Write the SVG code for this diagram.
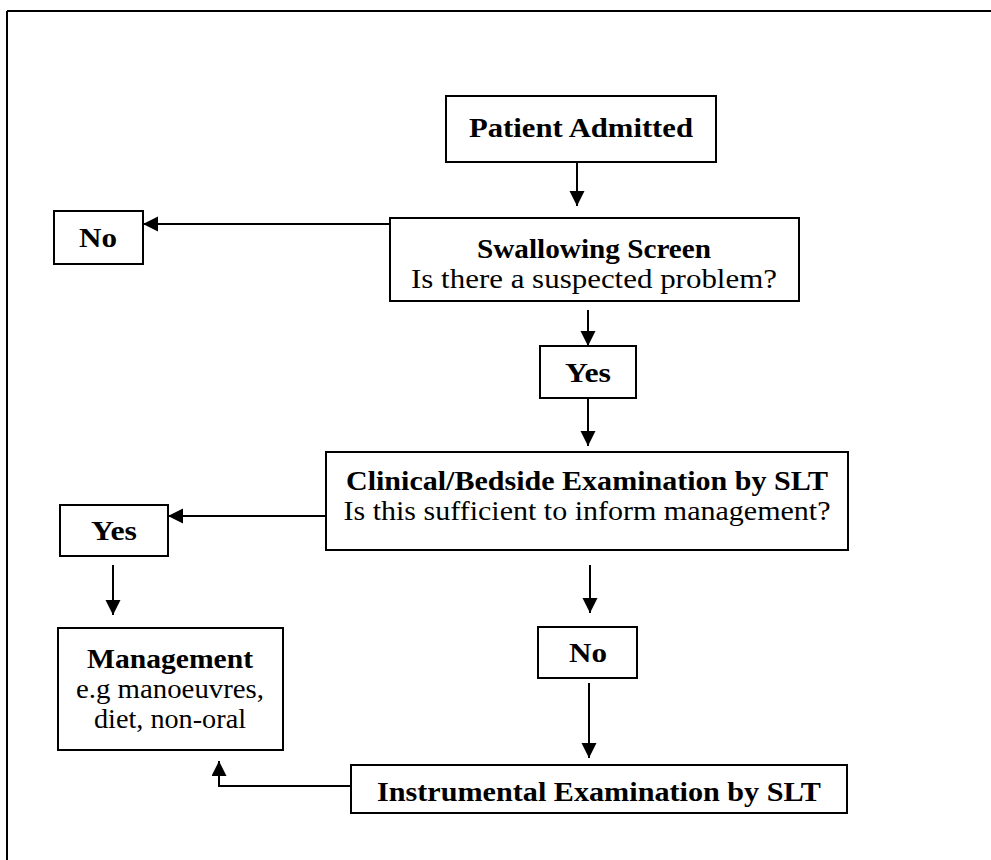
<svg xmlns="http://www.w3.org/2000/svg" width="991" height="860" viewBox="0 0 991 860">
<style>
.box{fill:#fff;stroke:#000;stroke-width:2}
.b{font-family:"Liberation Serif","Times New Roman",serif;font-weight:bold;font-size:27px;text-anchor:middle;fill:#000}
.r{font-family:"Liberation Serif","Times New Roman",serif;font-size:27px;text-anchor:middle;fill:#000}
.c{fill:none;stroke:#000;stroke-width:2}
</style>
<defs>
<marker id="ah" markerUnits="userSpaceOnUse" markerWidth="18" markerHeight="18" refX="15" refY="7.5" orient="auto">
<path d="M0,0 L15,7.5 L0,15 Z" fill="#000"/>
</marker>
</defs>
<rect width="991" height="860" fill="#fff"/>
<path d="M7,11 H991 M7,11 V860" fill="none" stroke="#000" stroke-width="2"/>
<g id="connectors">
<path class="c" d="M577,162 V206" marker-end="url(#ah)"/>
<path class="c" d="M390,224 H143" marker-end="url(#ah)"/>
<path class="c" d="M588,310 V346" marker-end="url(#ah)"/>
<path class="c" d="M588,398 V446" marker-end="url(#ah)"/>
<path class="c" d="M326,516 H168" marker-end="url(#ah)"/>
<path class="c" d="M113,565 V615" marker-end="url(#ah)"/>
<path class="c" d="M590,565 V613" marker-end="url(#ah)"/>
<path class="c" d="M589,683 V758" marker-end="url(#ah)"/>
<path class="c" d="M351,786 H219 V761" marker-end="url(#ah)"/>
</g>
<g id="patient-admitted">
<rect class="box" x="446" y="96" width="270" height="66"/>
<text class="b" x="581" y="137" textLength="224" lengthAdjust="spacingAndGlyphs">Patient Admitted</text>
</g>
<g id="swallowing-screen">
<rect class="box" x="390" y="218" width="409" height="83"/>
<text class="b" x="594" y="258" textLength="234" lengthAdjust="spacingAndGlyphs">Swallowing Screen</text>
<text class="r" x="594" y="288" textLength="366" lengthAdjust="spacingAndGlyphs">Is there a suspected problem?</text>
</g>
<g id="no-1">
<rect class="box" x="54" y="211" width="89" height="53"/>
<text class="b" x="98" y="247" textLength="38" lengthAdjust="spacingAndGlyphs">No</text>
</g>
<g id="yes-1">
<rect class="box" x="540" y="346" width="96" height="52"/>
<text class="b" x="588" y="382" textLength="46" lengthAdjust="spacingAndGlyphs">Yes</text>
</g>
<g id="clinical">
<rect class="box" x="326" y="452" width="522" height="98"/>
<text class="b" x="587" y="490" textLength="482" lengthAdjust="spacingAndGlyphs">Clinical/Bedside Examination by SLT</text>
<text class="r" x="587" y="520" textLength="487" lengthAdjust="spacingAndGlyphs">Is this sufficient to inform management?</text>
</g>
<g id="yes-2">
<rect class="box" x="60" y="505" width="108" height="51"/>
<text class="b" x="114" y="540" textLength="46" lengthAdjust="spacingAndGlyphs">Yes</text>
</g>
<g id="management">
<rect class="box" x="58" y="628" width="225" height="122"/>
<text class="b" x="170" y="668" textLength="166" lengthAdjust="spacingAndGlyphs">Management</text>
<text class="r" x="170" y="698" textLength="188" lengthAdjust="spacingAndGlyphs">e.g manoeuvres,</text>
<text class="r" x="170" y="728" textLength="152" lengthAdjust="spacingAndGlyphs">diet, non-oral</text>
</g>
<g id="no-2">
<rect class="box" x="538" y="627" width="99" height="51"/>
<text class="b" x="588" y="662" textLength="38" lengthAdjust="spacingAndGlyphs">No</text>
</g>
<g id="instrumental">
<rect class="box" x="351" y="765" width="496" height="48"/>
<text class="b" x="599" y="801" textLength="444" lengthAdjust="spacingAndGlyphs">Instrumental Examination by SLT</text>
</g>
</svg>
